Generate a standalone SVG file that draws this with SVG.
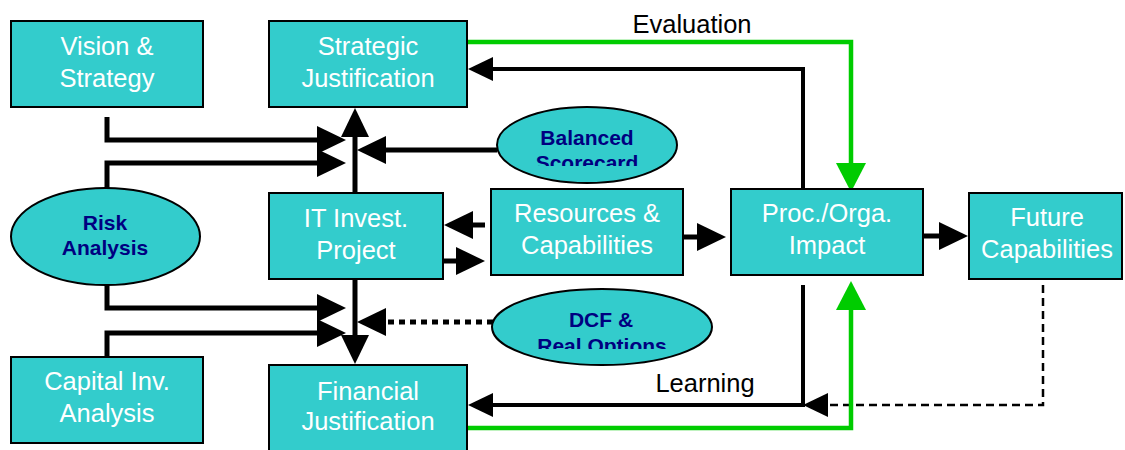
<svg xmlns="http://www.w3.org/2000/svg" width="1125" height="450" viewBox="0 0 1125 450">
<style>
.box{fill:#33CCCC;stroke:#000;stroke-width:2}
.ell{fill:#33CCCC;stroke:#000;stroke-width:2}
.bt{font-family:"Liberation Sans",Arial,sans-serif;font-size:25.5px;fill:#fff;text-anchor:middle}
.et{font-family:"Liberation Sans",Arial,sans-serif;font-size:21px;font-weight:bold;fill:#000080;text-anchor:middle}
.lbl{font-family:"Liberation Sans",Arial,sans-serif;font-size:25.5px;fill:#000;text-anchor:middle}
.k5{fill:none;stroke:#000;stroke-width:5}
.k4{fill:none;stroke:#000;stroke-width:4}
.g{fill:none;stroke:#00CC00;stroke-width:4.5}
.dot{fill:none;stroke:#000;stroke-width:5;stroke-dasharray:6 5}
.dash{fill:none;stroke:#000;stroke-width:2.5;stroke-dasharray:8 5}
</style>
<defs>
<marker id="aB" markerUnits="userSpaceOnUse" viewBox="0 -14 29 28" refX="0" refY="0" markerWidth="29" markerHeight="28" orient="auto" overflow="visible"><path d="M0,-14 L29,0 L0,14 z" fill="#000" stroke="none"/></marker>
<marker id="aM" markerUnits="userSpaceOnUse" viewBox="0 -12 25 24" refX="0" refY="0" markerWidth="25" markerHeight="24" orient="auto" overflow="visible"><path d="M0,-12 L25,0 L0,12 z" fill="#000" stroke="none"/></marker>
<marker id="aG" markerUnits="userSpaceOnUse" viewBox="0 -15 29 30" refX="0" refY="0" markerWidth="29" markerHeight="30" orient="auto" overflow="visible"><path d="M0,-15 L29,0 L0,15 z" fill="#00CC00" stroke="none"/></marker>
<clipPath id="cBal"><rect x="480" y="100" width="220" height="66"/></clipPath>
<clipPath id="cDcf"><rect x="480" y="280" width="240" height="69"/></clipPath>
</defs>

<g id="connectors">
<path class="k5" d="M107,117 V140 H317" marker-end="url(#aB)"/>
<path class="k5" d="M107,188 V163 H317" marker-end="url(#aB)"/>
<path class="k5" d="M107,285 V308 H317" marker-end="url(#aB)"/>
<path class="k5" d="M107,357 V333 H317" marker-end="url(#aB)"/>
<path class="k5" d="M355,193 V137" marker-end="url(#aB)"/>
<path class="k5" d="M355,279 V335" marker-end="url(#aB)"/>
<path class="k5" d="M497,150 H386" marker-end="url(#aB)"/>
<path class="dot" d="M493,322 H386" marker-end="url(#aB)"/>
<path class="k5" d="M485,225 H473" marker-end="url(#aB)"/>
<path class="k5" d="M443,261 H456" marker-end="url(#aB)"/>
<path class="k5" d="M683,237 H697" marker-end="url(#aB)"/>
<path class="k5" d="M923,236 H939" marker-end="url(#aB)"/>
<path class="k4" d="M803,189 V69 H493" marker-end="url(#aM)"/>
<path class="k4" d="M803,285 V405 H493" marker-end="url(#aM)"/>
<path class="dash" d="M1043,285 V405 H828" marker-end="url(#aM)"/>
<path class="g" d="M464,42 H851 V163" marker-end="url(#aG)"/>
<path class="g" d="M467,428 H851 V310" marker-end="url(#aG)"/>
<text class="lbl" x="692" y="33">Evaluation</text>
<text class="lbl" x="705" y="392">Learning</text>
</g>

<g id="vision">
<rect class="box" x="11" y="21" width="192" height="86"/>
<text class="bt" x="107" y="55">Vision &amp;</text>
<text class="bt" x="107" y="87">Strategy</text>
</g>
<g id="strategic">
<rect class="box" x="269" y="21" width="198" height="86"/>
<text class="bt" x="368" y="55">Strategic</text>
<text class="bt" x="368" y="87">Justification</text>
</g>
<g id="balanced">
<ellipse class="ell" cx="587" cy="145" rx="90" ry="38"/>
<g clip-path="url(#cBal)">
<text class="et" x="587" y="145">Balanced</text>
<text class="et" x="587" y="170">Scorecard</text>
</g>
</g>
<g id="risk">
<ellipse class="ell" cx="105.5" cy="236.5" rx="94.5" ry="48.5"/>
<text class="et" x="105" y="230">Risk</text>
<text class="et" x="105" y="255">Analysis</text>
</g>
<g id="itinvest">
<rect class="box" x="269" y="193" width="174" height="86"/>
<text class="bt" x="356" y="227">IT Invest.</text>
<text class="bt" x="356" y="259">Project</text>
</g>
<g id="resources">
<rect class="box" x="491" y="189" width="192" height="86"/>
<text class="bt" x="587" y="222">Resources &amp;</text>
<text class="bt" x="587" y="254">Capabilities</text>
</g>
<g id="proc">
<rect class="box" x="731" y="189" width="192" height="86"/>
<text class="bt" x="827" y="222">Proc./Orga.</text>
<text class="bt" x="827" y="254">Impact</text>
</g>
<g id="future">
<rect class="box" x="969" y="193" width="153" height="86"/>
<text class="bt" x="1047" y="226">Future</text>
<text class="bt" x="1047" y="258">Capabilities</text>
</g>
<g id="dcf">
<ellipse class="ell" cx="602" cy="327" rx="110" ry="38"/>
<g clip-path="url(#cDcf)">
<text class="et" x="601" y="327">DCF &amp;</text>
<text class="et" x="602" y="353">Real Options</text>
</g>
</g>
<g id="capital">
<rect class="box" x="11" y="357" width="192" height="86"/>
<text class="bt" x="107" y="390">Capital Inv.</text>
<text class="bt" x="107" y="422">Analysis</text>
</g>
<g id="financial">
<rect class="box" x="269" y="365" width="198" height="86"/>
<text class="bt" x="368" y="400">Financial</text>
<text class="bt" x="368" y="430">Justification</text>
</g>
</svg>
